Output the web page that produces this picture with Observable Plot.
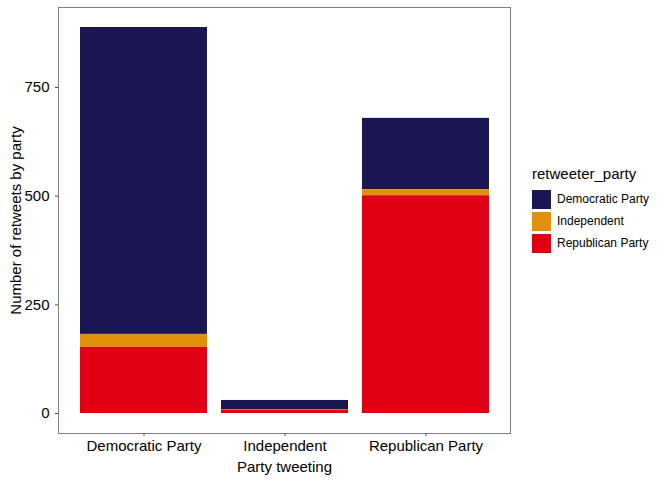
<!DOCTYPE html>
<html>
<head>
<meta charset="utf-8">
<script src="https://cdn.jsdelivr.net/npm/d3@7"></script>
<script src="https://cdn.jsdelivr.net/npm/@observablehq/plot@0.6"></script>
<style>
  body { margin: 0; background: #fff; font-family: "Liberation Sans", Arial, sans-serif; }
  #wrap { position: relative; width: 672px; height: 480px; }
  #legend { position: absolute; left: 532px; top: 165px; color: #000; }
  #legend .title { font-size: 15px; margin-bottom: 6px; }
  #legend .row { display: flex; align-items: center; height: 22px; font-size: 12px; }
  #legend .key { width: 19px; height: 19px; margin-right: 6px; }
</style>
</head>
<body>
<div id="wrap"><div id="legend"></div></div>
<script>
const tweeting = ["Democratic Party", "Independent", "Republican Party"];
const retweeters = ["Democratic Party", "Independent", "Republican Party"];
const colors = ["#1a1652", "#e0900a", "#e00014"];
// counts per tweeting party, one array per retweeter party
const fromDemocrats = [706, 21, 164];
const fromIndependents = [30, 1, 14];
const fromRepublicans = [152, 8, 501];

const series = [fromDemocrats, fromIndependents, fromRepublicans];
const rows = [];
retweeters.forEach(function (r, i) {
  tweeting.forEach(function (t, j) {
    rows.push({ tweeting: t, retweeter: r, n: series[i][j] });
  });
});

const chart = Plot.plot({
  width: 520,
  height: 480,
  marginLeft: 58,
  marginRight: 10,
  marginTop: 7,
  marginBottom: 47,
  style: { fontFamily: "Liberation Sans, Arial, sans-serif", fontSize: 11, background: "transparent" },
  x: { domain: tweeting, paddingInner: 0.1, paddingOuter: 0.15 },
  y: { domain: [-46, 934] },
  color: { domain: retweeters, range: colors },
  marks: [
    Plot.barY(rows, Plot.stackY({
      x: "tweeting", y: "n", fill: "retweeter",
      order: ["Republican Party", "Independent", "Democratic Party"]
    })),
    Plot.frame({ stroke: "#7f7f7f", strokeWidth: 1 }),
    Plot.axisY({ ticks: [0, 250, 500, 750], tickSize: 3, color: "#4d4d4d",
      label: "Number of retweets by party", labelAnchor: "center", labelArrow: "none", labelOffset: 48, fontSize: 11 }),
    Plot.axisX({ tickSize: 3, color: "#4d4d4d", tickPadding: 4,
      label: "Party tweeting", labelAnchor: "center", labelArrow: "none", labelOffset: 38, fontSize: 11 })
  ]
});
d3.select(chart).selectAll("[aria-label$='label'] text").attr("fill", "#000").style("font-size", "15px");
document.getElementById("wrap").prepend(chart);

const legend = document.getElementById("legend");
legend.innerHTML = '<div class="title">retweeter_party</div>' +
  retweeters.map(function (r, i) {
    return '<div class="row"><div class="key" style="background:' + colors[i] + '"></div>' + r + '</div>';
  }).join("");
</script>
</body>
</html>
